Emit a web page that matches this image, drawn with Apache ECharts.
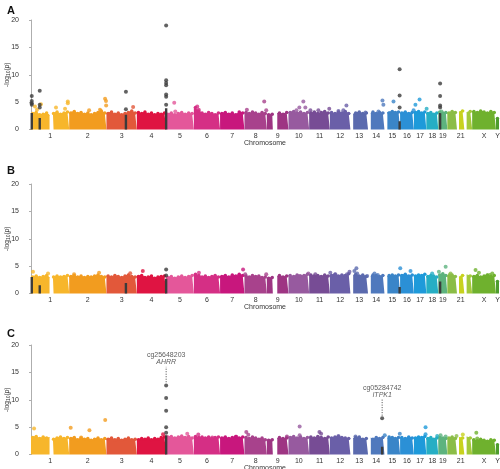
<!DOCTYPE html>
<html>
<head>
<meta charset="utf-8">
<script src="https://cdn.jsdelivr.net/npm/echarts@6/dist/echarts.min.js"></script>
<style>html,body{margin:0;padding:0;background:#fff}#chart{width:500px;height:469px}</style>
</head>
<body>
<div id="chart"></div>
<script>
// chromosomes (lengths in Mb)
const chromNames = ['1','2','3','4','5','6','7','8','9','10','11','12','13','14','15','16','17','18','19','20','21','22','X','Y'];
const chromLen = [249,243,198,191,181,171,159,146,141,135,135,134,115,107,102,90,81,78,59,63,48,51,155,20];
const chromColors = ['#f7b62b','#f29c1f','#e2583a','#df1442','#e4579a','#d52f85','#c8177d','#a8428c','#9e3583','#975a9f',
  '#774c95','#6a5fa8','#5b6aae','#4f79bd','#3a85c8','#2b90d6','#1e9ada','#26aec4','#5db37e','#8bbd47','#c8d21e','#a2c93a','#6fb12e','#4e9c2e'];
const unlabelled = ['20','22'];
// regions without probes: [chrom, from Mb, to Mb]
const gaps = [['1',121,143],['9',39,68],['13',0,18],['14',0,18],['15',0,19],['21',0,13],['22',0,15]];
const yTicks = [0,5,10,15,20];
const panelNames = ['A','B','C'];

// upper edge of the dense band of probes, per chromosome
const envA = [
  [2.9,3.1,2.7,2.8,3.0,2.6,2.9,3.2,2.8,3.0,3.2],[3.0,3.3,2.9,3.1,2.8,3.0,2.7,2.9,3.1,3.3,3.0],
  [2.9,3.2,2.8,3.0,2.7,2.9,3.1,3.4,3.0],[3.1,2.9,3.2,2.8,3.0,2.7,2.9,2.8,3.0],
  [2.8,3.0,2.7,2.9,3.1,2.8,3.0,2.9],[4.0,3.4,3.0,2.8,3.1,2.9,2.7,3.0],[2.9,3.1,2.8,3.0,2.7,3.2,3.0],
  [3.1,2.9,3.2,3.0,2.8,3.1,2.9],[2.7,2.8,2.9,3.0,2.8,3.1],[3.1,3.3,3.0,3.2,2.9,3.1],[3.0,3.2,2.9,3.1,3.3,3.0],
  [3.1,2.9,3.2,3.0,3.3,2.9],[2.8,3.0,3.2,2.9,3.0],[3.0,3.2,2.9,3.1,3.0],[3.1,3.0,3.3,3.1,3.2],
  [3.0,3.2,2.9,3.1],[3.1,3.3,3.0,3.2],[2.9,3.1,2.8,3.0],[3.2,3.0,3.1],[3.0,3.3,3.1],[3.2,3.4],[3.1,3.3],
  [3.3,3.1,3.4,3.2,3.0,3.3,3.1],[2.0]
];
const envB = [
  [3.0,3.2,2.9,3.1,3.3,2.9,3.0,3.2,3.0,3.1,3.3],[3.1,3.3,3.0,3.2,2.9,3.1,3.0,3.2,3.4,3.1,3.0],
  [3.2,3.0,3.3,3.1,2.9,3.2,3.4,3.1,3.0],[3.1,3.3,2.9,3.0,3.2,2.8,3.0,3.1,3.2],
  [2.9,3.1,2.8,3.0,3.2,2.9,3.1,3.3],[3.5,3.3,3.0,3.2,2.9,3.1,3.3,3.0],[3.1,3.3,3.0,3.4,3.2,3.5,3.3],
  [3.2,3.0,3.3,3.1,3.2,2.9,3.0],[2.8,2.9,3.1,3.3,3.0,3.2],[3.3,3.1,3.4,3.2,3.3,3.5],[3.4,3.2,3.3,3.1,3.4,3.2],
  [3.3,3.5,3.2,3.4,3.3,3.6],[3.3,3.5,3.2,3.4,3.1],[3.2,3.4,3.3,3.1,3.3],[3.1,3.3,3.4,3.2,3.4],
  [3.3,3.5,3.2,3.4],[3.2,3.4,3.3,3.5],[3.1,3.3,3.2,3.0],[3.4,3.6,3.3],[3.2,3.4,3.1],[3.0,3.3],[3.4,3.2],
  [3.1,3.3,3.0,3.2,3.4,3.1,3.3],[2.2]
];
const envC = [
  [3.1,3.3,2.9,3.2,3.0,3.1,2.8,3.0,3.2,2.9,3.1],[2.9,3.1,2.7,3.0,2.8,2.9,2.6,2.8,3.0,2.7,2.9],
  [2.8,3.0,2.7,2.9,2.6,2.8,3.0,2.7,2.8],[2.7,2.9,2.8,3.0,2.7,2.9,2.8,3.1,3.2],
  [3.2,3.3,3.0,3.2,3.4,3.1,3.3,3.0],[3.3,3.1,3.2,3.0,3.2,2.9,3.1,3.2],[3.0,3.2,2.9,3.1,3.3,3.0,3.2],
  [3.1,2.9,3.2,3.0,2.8,3.0,2.7],[2.6,2.7,2.9,3.1,2.9,3.0],[3.1,3.3,3.0,3.2,2.9,3.1],[3.2,3.0,3.3,3.1,2.9,3.2],
  [3.0,3.2,3.3,3.1,3.0,2.9],[2.9,3.1,3.2,2.8,2.9],[3.0,2.8,3.1,2.9,3.1],[3.0,3.2,3.1,2.9,3.1],
  [3.1,2.9,3.2,3.0],[3.0,3.2,3.1,3.3],[2.9,3.1,2.8,3.0],[3.1,3.0,2.9],[3.0,3.2,2.9],[3.1,3.0],[3.2,3.0],
  [2.7,2.5,2.8,2.6,2.4,2.7,2.6],[1.8]
];

// highlighted probes drawn in dark grey: stacked column tops [chrom, Mb, -log10 p]
const darkColsA = [['1',5,3.0],['1',57,2.1],['3',127,2.7],['5',0.4,3.9],['15',99,1.5],['19',12,3.0]];
const darkColsB = [['1',5,3.0],['1',57,1.5],['3',127,1.9],['5',0.4,2.7],['15',99,1.2],['19',12,2.2]];
const darkColsC = [['5',0.4,3.5],['14',92,1.4]];
const darkPtsA = [
  ['1',5,6.1],['1',5,5.2],['1',5,4.8],['1',5,4.5],['1',57,7.1],['1',57,4.5],['1',57,4.0],
  ['3',127,6.9],['3',127,3.7],
  ['5',0.4,19.0],['5',0.4,9.0],['5',0.4,8.5],['5',0.4,8.1],['5',0.4,6.4],['5',0.4,6.0],['5',0.4,4.5],
  ['15',99,11.0],['15',99,6.2],['15',99,4.0],['19',12,8.4],['19',12,6.1],['19',12,4.4],['19',12,4.0]
];
const darkPtsB = [['5',0.4,4.4],['5',0.4,3.3]];
const darkPtsC = [['5',0.4,12.6],['5',0.4,10.3],['5',0.4,8.0],['5',0.4,5.0],['5',0.4,3.95],['14',92,6.6]];

// other probes above the band
const ptsA = [
  ['1',26,4.2],['1',39,3.6],['1',65,4.6],['1',163,4.0],['1',240,5.1],['1',240,4.8],['1',222,3.8],
  ['2',130,3.5],['2',201,3.6],['2',208,3.4],['2',234,5.6],['2',240,5.2],['2',241,4.4],['3',174,4.1],
  ['5',53,4.9],['5',60,3.3],['6',22,4.2],['6',32,3.6],['8',16,3.6],['8',129,5.1],['8',142,3.5],
  ['10',52,3.5],['10',71,4.0],['10',97,5.1],['10',110,4.0],['11',8,3.5],['11',60,3.5],['11',131,3.8],
  ['12',56,3.4],['12',88,3.5],['12',108,4.4],['13',98,3.1],['14',68,3.3],['14',94,5.3],['14',100,4.5],
  ['15',59,5.1],['16',88,3.5],['17',10,4.5],['17',37,5.5],['18',2,3.8],['19',21,3.3]
];
const ptsB = [
  ['1',13,3.95],['1',111,3.65],['2',32,3.5],['2',195,3.8],['3',155,3.7],['4',39,4.1],['6',33,3.8],
  ['7',150,4.4],['8',5,3.5],['8',142,3.5],['10',71,3.2],['10',130,3.65],['11',40,3.5],
  ['12',3,3.8],['12',36,3.5],['12',112,3.5],['12',128,3.95],['13',26,4.1],['13',39,4.6],['13',44,3.65],['13',109,3.2],
  ['14',42,3.65],['14',63,3.4],['16',1,4.6],['16',68,4.1],['18',38,3.65],['19',4,3.95],['19',48,4.9],
  ['20',16,3.4],['20',21,3.65],['X',22,4.3],['X',44,3.8],['X',98,3.3],['X',115,3.4],['X',131,3.65]
];
const ptsC = [
  ['1',20,4.75],['2',10,4.9],['2',78,3.1],['2',132,4.45],['2',235,6.3],['4',171,3.7],['5',138,3.8],
  ['6',29,3.65],['6',120,3.1],['7',106,3.25],['8',12,4.1],['8',25,3.6],['9',131,3.3],['10',73,5.1],['10',73,3.5],
  ['11',67,4.1],['11',78,3.8],['12',56,3.4],['13',33,3.3],['15',2,3.5],['15',100,3.8],['17',76,5.0],['17',76,3.7],
  ['18',71,3.4],['19',15,3.5],['19',48,3.3],['20',60,3.4],['21',38,3.65],['X',27,3.95],['X',33,2.9]
];
// labelled probes in panel C: [chrom, Mb, line from, line to, probe, gene]
const notesC = [['5',0.4,13.2,16.0,'cg25648203','AHRR'],['14',92,7.1,10.1,'cg05284742','ITPK1']];

const chromStart = [];
let acc = 0;
chromLen.forEach(l => { chromStart.push(acc); acc += l; });
const genomeLen = acc;
const ci = c => chromNames.indexOf(c);
const gx = (c, p) => chromStart[ci(c)] + p;
const mids = chromNames.map((c, i) => chromStart[i] + chromLen[i] / 2);
const labelVals = mids.filter((m, i) => unlabelled.indexOf(chromNames[i]) < 0);

function segmentsOf(i) {
  const cuts = gaps.filter(g => g[0] === chromNames[i]).sort((a, b) => a[1] - b[1]);
  const segs = [];
  let s = 0;
  cuts.forEach(g => { if (g[1] > s) segs.push([s, g[1]]); s = g[2]; });
  if (s < chromLen[i]) segs.push([s, chromLen[i]]);
  return segs;
}

function bandSeries(env, gi) {
  const out = [];
  env.forEach((vals, i) => {
    const len = chromLen[i], n = vals.length, color = chromColors[i];
    const samples = vals.map((v, k) => [len * (k + 0.5) / n, v]);
    const near = x => samples.reduce((m, s) => Math.abs(s[0] - x) < Math.abs(m[0] - x) ? s : m)[1];
    segmentsOf(i).forEach(([a, b]) => {
      const inside = samples.filter(s => s[0] > a && s[0] < b);
      const data = [{ value: [chromStart[i] + a, near(a)], symbolSize: 0 }]
        .concat(inside.map(s => [chromStart[i] + s[0], s[1]]))
        .concat([{ value: [chromStart[i] + b, near(b)], symbolSize: 0 }]);
      out.push({
        type: 'line', xAxisIndex: gi, yAxisIndex: gi, data: data,
        symbol: 'circle', symbolSize: 3.5, showAllSymbol: true,
        itemStyle: { color: color }, lineStyle: { width: 1, color: color },
        areaStyle: { color: color, opacity: 1 }, silent: true, z: 2
      });
    });
  });
  return out;
}

const dark = '#3b3b3b';
function panelSeries(env, cols, darkPts, pts, gi) {
  let s = bandSeries(env, gi);
  cols.forEach(c => {
    s.push({ type: 'line', xAxisIndex: gi, yAxisIndex: gi, showSymbol: false, silent: true, z: 3,
      data: [[gx(c[0], c[1]), 0], [gx(c[0], c[1]), c[2]]], lineStyle: { width: 2.4, color: dark } });
  });
  s.push({ type: 'scatter', xAxisIndex: gi, yAxisIndex: gi, symbolSize: 4, z: 4, silent: true,
    data: pts.map(p => ({ value: [gx(p[0], p[1]), p[2]], itemStyle: { color: chromColors[ci(p[0])] } })) });
  s.push({ type: 'scatter', xAxisIndex: gi, yAxisIndex: gi, symbolSize: 4, z: 5, silent: true,
    itemStyle: { color: dark }, data: darkPts.map(p => [gx(p[0], p[1]), p[2]]) });
  return s;
}

let series = []
  .concat(panelSeries(envA, darkColsA, darkPtsA, ptsA, 0))
  .concat(panelSeries(envB, darkColsB, darkPtsB, ptsB, 1))
  .concat(panelSeries(envC, darkColsC, darkPtsC, ptsC, 2));

notesC.forEach(n => {
  const x = gx(n[0], n[1]);
  series.push({ type: 'line', xAxisIndex: 2, yAxisIndex: 2, showSymbol: false, silent: true, z: 5,
    data: [[x, n[2]], [x, n[3]]], lineStyle: { width: 1, type: [1, 1.5], color: '#444' } });
  series.push({ type: 'scatter', xAxisIndex: 2, yAxisIndex: 2, symbolSize: 0, silent: true, z: 6,
    data: [[x, n[3]]],
    label: { show: true, position: 'top', distance: 1,
      formatter: '{a|' + n[4] + '}\n{g|' + n[5] + '}',
      rich: { a: { fontSize: 7, color: '#333', lineHeight: 7, align: 'center' },
              g: { fontSize: 7, color: '#333', lineHeight: 7, fontStyle: 'italic', align: 'center' } } } });
});

const tops = [20, 184, 345];
const grids = tops.map(t => ({ left: 31, right: 1, top: t, height: 109.5, containLabel: false, outerBoundsMode: 'none' }));
const xAxes = tops.map((t, i) => ({
  type: 'value', gridIndex: i, min: 0, max: genomeLen,
  axisLine: { show: false }, axisTick: { show: false }, splitLine: { show: false },
  axisLabel: {
    customValues: labelVals, fontSize: 7, color: '#333', margin: 3,
    formatter: v => {
      let best = 0;
      mids.forEach((m, k) => { if (Math.abs(m - v) < Math.abs(mids[best] - v)) best = k; });
      return chromNames[best];
    }
  },
  name: 'Chromosome', nameLocation: 'middle', nameGap: 10, nameMoveOverlap: false,
  nameTextStyle: { fontSize: 7, color: '#333' }
}));
const yAxes = tops.map((t, i) => ({
  type: 'value', gridIndex: i, min: yTicks[0], max: yTicks[yTicks.length - 1], interval: 5, offset: 4,
  axisLine: { show: true, lineStyle: { color: '#999', width: 0.8 } },
  axisTick: { show: true, length: 2, lineStyle: { color: '#999', width: 0.8 } },
  splitLine: { show: false },
  axisLabel: { fontSize: 7, color: '#333', margin: 8 },
  name: '{a|-log}{s|10}{a|(}{i|p}{a|)}', nameLocation: 'middle', nameRotate: 90, nameGap: 16,
  nameMoveOverlap: false,
  nameTextStyle: { rich: {
    a: { fontSize: 6.5, color: '#333' },
    s: { fontSize: 5, color: '#333', padding: [3, 0, 0, 0] },
    i: { fontSize: 6.5, color: '#333', fontStyle: 'italic' } } }
}));

const chart = echarts.init(document.getElementById('chart'), null, { renderer: 'canvas' });
chart.setOption({
  animation: false,
  backgroundColor: '#fff',
  textStyle: { fontFamily: 'Liberation Sans' },
  title: panelNames.map((p, i) => ({
    text: p, left: 2, top: [0, 160, 323][i],
    textStyle: { fontSize: 11, fontWeight: 'bold', color: '#111', fontFamily: 'Liberation Sans' }
  })),
  grid: grids,
  xAxis: xAxes,
  yAxis: yAxes,
  series: series
});
</script>
</body>
</html>
